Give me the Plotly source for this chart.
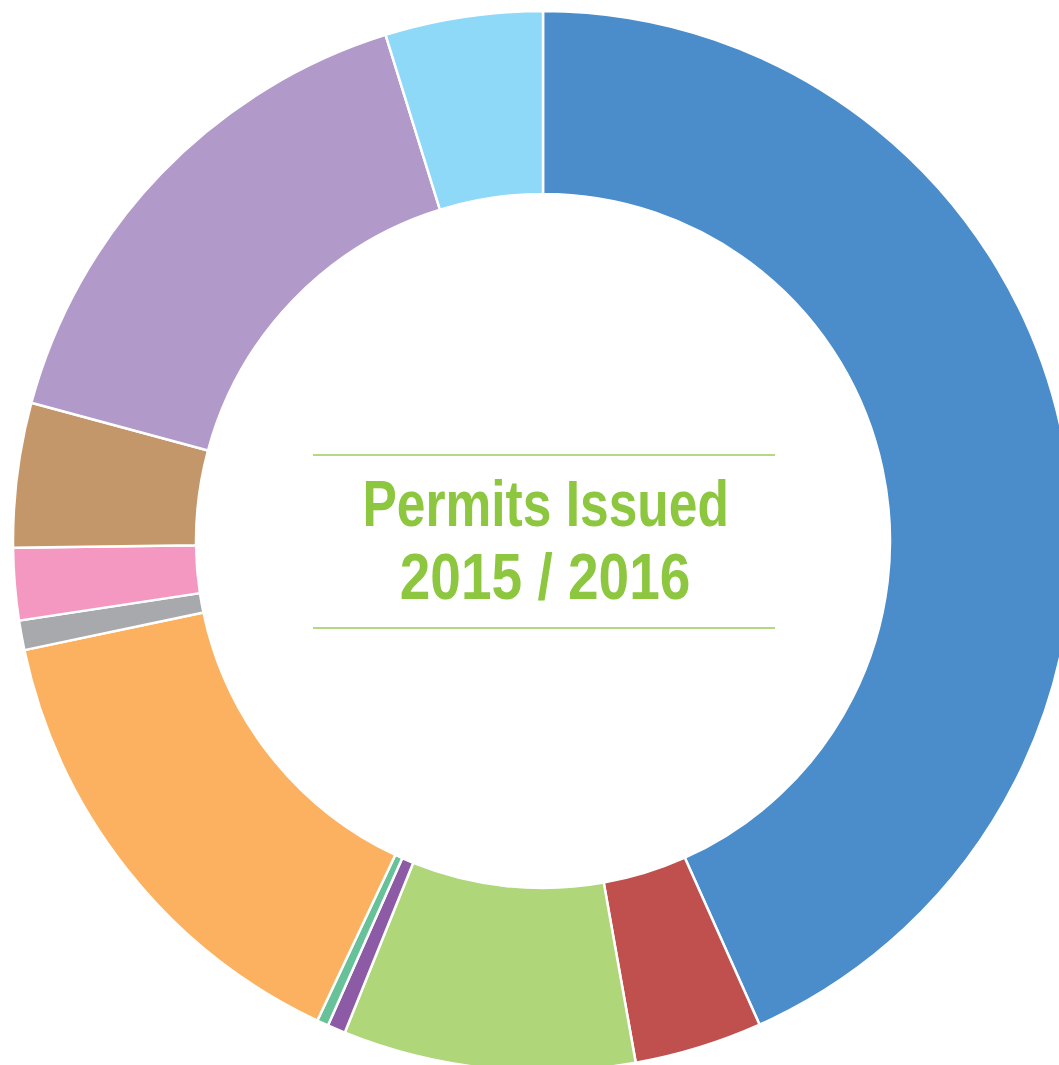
import plotly.graph_objects as go

# Data (share of permits, %)
categories = ["Category 1", "Category 2", "Category 3", "Category 4", "Category 5",
              "Category 6", "Category 7", "Category 8", "Category 9", "Category 10",
              "Category 11"]
values = [43.3, 3.9, 8.9, 0.55, 0.35, 14.7, 0.9, 2.2, 4.4, 16.0, 4.8]
colors = ["#4A8DCA", "#C0504D", "#AFD678", "#8D5BA6", "#67C29A", "#FBB160",
          "#A7A9AC", "#F498C2", "#C3976A", "#B19AC9", "#8ED8F8"]
title_lines = ["Permits Issued", "2015 / 2016"]

W, H = 1086, 1082
cx, cy, R = 543, 541, 530

def px(x):
    return x / W

def py(y):
    return 1 - y / H

fig = go.Figure(go.Pie(
    labels=categories,
    values=values,
    sort=False,
    direction="clockwise",
    rotation=0,
    hole=347 / 530,
    textinfo="none",
    marker=dict(colors=colors, line=dict(color="white", width=2.5)),
    domain=dict(x=[0, 1], y=[py(cy + R), py(cy - R)]),
    showlegend=False,
))

green = "#8DC63F"
font_family = "Liberation Sans Narrow, Arial Narrow, Liberation Sans, Arial"
fig.add_annotation(x=px(545), y=py(504), xref="paper", yref="paper",
                   text="<b>%s</b>" % title_lines[0], showarrow=False,
                   xanchor="center", yanchor="middle",
                   font=dict(family=font_family, size=64, color=green))
fig.add_annotation(x=px(544.5), y=py(577), xref="paper", yref="paper",
                   text="<b>%s</b>" % title_lines[1], showarrow=False,
                   xanchor="center", yanchor="middle",
                   font=dict(family=font_family, size=64, color=green))
for yy in (455, 628):
    fig.add_shape(type="line", xref="paper", yref="paper",
                  x0=px(313), x1=px(775), y0=py(yy), y1=py(yy),
                  line=dict(color="#9DCB5E", width=1.5))

fig.update_layout(width=W, height=H, margin=dict(l=0, r=0, t=0, b=0),
                  paper_bgcolor="white", plot_bgcolor="white")

post = """
document.body.style.margin='0';
document.body.style.overflow='hidden';
document.documentElement.style.overflow='hidden';
var sc=[0.805,0.86];
var els=document.querySelectorAll('.annotation-text');
for (var i=0;i<els.length && i<sc.length;i++){
  els[i].style.transformBox='fill-box';
  els[i].style.transformOrigin='center';
  els[i].style.transform='scaleX('+sc[i]+')';
}
"""
fig.write_html("out.html", post_script=post)
